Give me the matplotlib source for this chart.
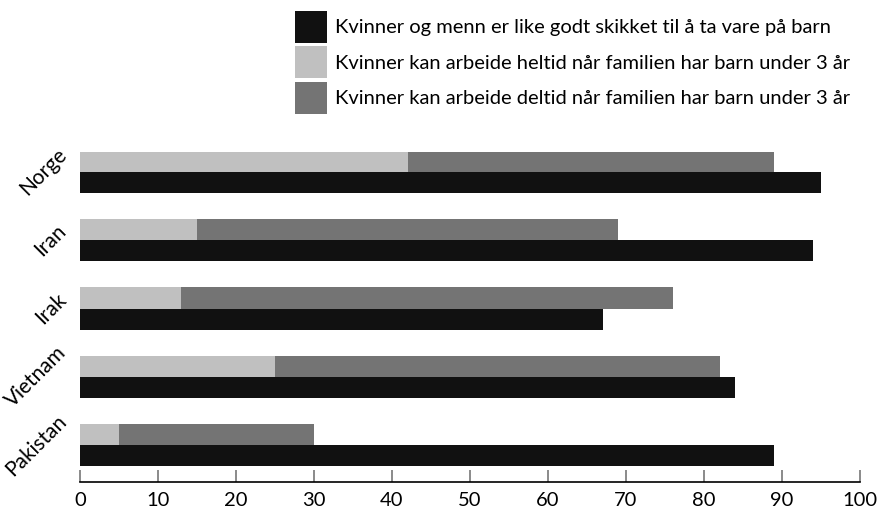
import matplotlib
matplotlib.use("Agg")
import matplotlib.pyplot as plt
from matplotlib.patches import Patch
import numpy as np

plt.rcParams['font.family'] = ['Lato', 'DejaVu Sans']

# data (prosent)
land = ["Norge", "Iran", "Irak", "Vietnam", "Pakistan"]
like_godt = [95, 94, 67, 84, 89]
heltid = [42, 15, 13, 25, 5]
deltid = [47, 54, 63, 57, 25]

etiketter = [
    "Kvinner og menn er like godt skikket til å ta vare på barn",
    "Kvinner kan arbeide heltid når familien har barn under 3 år",
    "Kvinner kan arbeide deltid når familien har barn under 3 år",
]
farger = ["#111111", "#c0c0c0", "#747474"]

fig = plt.figure(figsize=(8.79, 5.12), dpi=100)
# akse: x fra 80 til 860 px, y fra 152 til 482 px
ax = fig.add_axes([80 / 879, 30 / 512, 780 / 879, 330 / 512])

y = np.arange(len(land))[::-1].astype(float)
h = 0.31

# svart stolpe under, stablet grå over
ax.barh(y - h / 2, like_godt, height=h, color=farger[0])
ax.barh(y + h / 2, heltid, height=h, color=farger[1])
ax.barh(y + h / 2, deltid, left=heltid, height=h, color=farger[2])

ax.set_xlim(0, 100)
ax.set_ylim(-0.542, 4.293)
ax.set_xticks(range(0, 101, 10))
ax.set_yticks(y)
ax.set_yticklabels(land, rotation=45, ha="right", va="center", fontsize=15)

for s in ["top", "right", "left"]:
    ax.spines[s].set_visible(False)
ax.spines["bottom"].set_linewidth(1.2)
ax.tick_params(axis="y", length=0, pad=7)
ax.tick_params(axis="x", direction="in", length=9, width=1.2, color="#777777",
               labelsize=14.5, pad=7)

# firkantene i forklaringen skal bli ca 32x32 px
handles = [Patch(facecolor=c, edgecolor="none") for c in farger]
fig.legend(handles, etiketter, loc="upper left", bbox_to_anchor=(295 / 879, 1 - 11 / 512),
           frameon=False, fontsize=14.5, handlelength=1.59, handleheight=2.07,
           handletextpad=0.4, labelspacing=0.17, borderpad=0, borderaxespad=0)

fig.savefig("out.png", dpi=100)
